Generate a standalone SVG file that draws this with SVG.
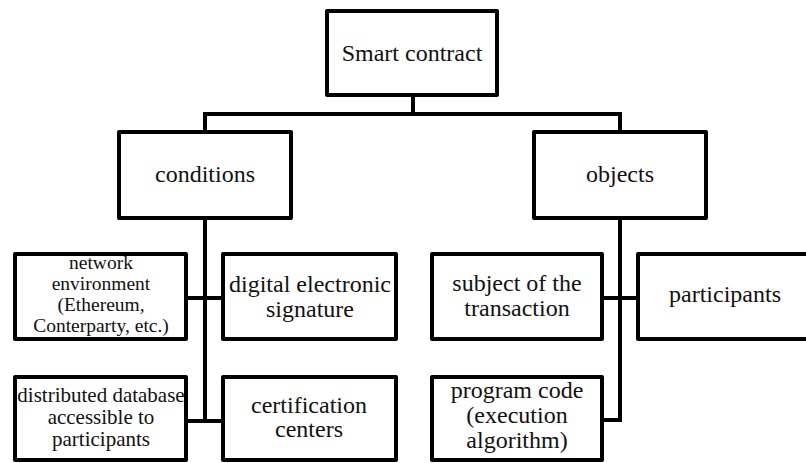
<svg xmlns="http://www.w3.org/2000/svg" width="806" height="463" viewBox="0 0 806 463">
<style>
.box{fill:#fff;stroke:#000;stroke-width:4;stroke-linejoin:round}
.conn{fill:none;stroke:#000;stroke-width:4;stroke-linejoin:miter}
.t text{fill:#111;text-anchor:middle}
.l{font-size:24px}
.s{font-size:19.5px}
.m{font-size:21px}
</style>
<rect width="806" height="463" fill="#fff"/>
<g id="connectors">
<path class="conn" d="M413,97 V114"/>
<path class="conn" d="M205,132 V114 H620 V132"/>
<path class="conn" d="M205,220 V423"/>
<path class="conn" d="M188,298 H221"/>
<path class="conn" d="M188,421 H221"/>
<path class="conn" d="M620,220 V420 H604"/>
<path class="conn" d="M604,298 H636"/>
</g>
<g class="t" font-family="'Liberation Serif', 'Times New Roman', 'DejaVu Serif', serif">
<g id="smart-contract">
<rect class="box" x="327" y="11" width="170" height="84"/>
<text class="l" x="412" y="61">Smart contract</text>
</g>
<g id="conditions">
<rect class="box" x="119" y="132" width="172" height="86"/>
<text class="l" x="205" y="182">conditions</text>
</g>
<g id="objects">
<rect class="box" x="534" y="132" width="172" height="86"/>
<text class="l" x="620" y="182">objects</text>
</g>
<g id="network-environment">
<rect class="box" x="15" y="254" width="171" height="85"/>
<text class="s" x="101" y="269">network</text>
<text class="s" x="101" y="290">environment</text>
<text class="s" x="101" y="311">(Ethereum,</text>
<text class="s" x="101" y="332">Conterparty, etc.)</text>
</g>
<g id="digital-signature">
<rect class="box" x="223" y="254" width="173" height="85"/>
<text class="l" x="310" y="292">digital electronic</text>
<text class="l" x="310" y="317">signature</text>
</g>
<g id="distributed-database">
<rect class="box" x="15" y="377" width="171" height="83"/>
<text class="m" x="101" y="402">distributed database</text>
<text class="m" x="101" y="424">accessible to</text>
<text class="m" x="101" y="446">participants</text>
</g>
<g id="certification-centers">
<rect class="box" x="223" y="377" width="173" height="83"/>
<text class="l" x="309" y="413">certification</text>
<text class="l" x="309" y="437">centers</text>
</g>
<g id="subject">
<rect class="box" x="432" y="254" width="170" height="85"/>
<text class="l" x="517" y="291">subject of the</text>
<text class="l" x="517" y="316">transaction</text>
</g>
<g id="participants">
<rect class="box" x="638" y="254" width="174" height="85"/>
<text class="l" x="725" y="302">participants</text>
</g>
<g id="program-code">
<rect class="box" x="432" y="377" width="170" height="83"/>
<text class="l" x="517" y="398">program code</text>
<text class="l" x="517" y="423">(execution</text>
<text class="l" x="517" y="448">algorithm)</text>
</g>
</g>
</svg>
